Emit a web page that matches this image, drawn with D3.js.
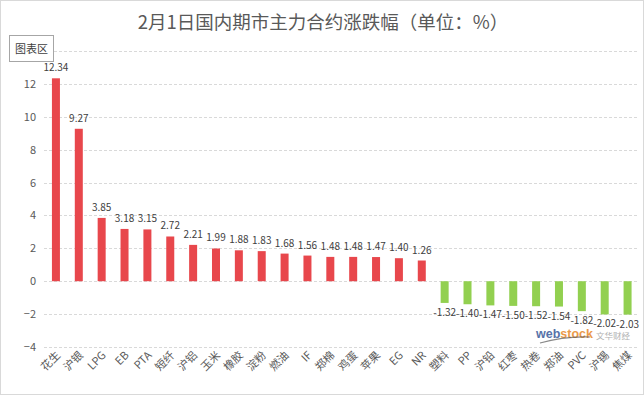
<!DOCTYPE html>
<html><head><meta charset="utf-8">
<script src="https://cdn.jsdelivr.net/npm/d3@7"></script>
<style>body{margin:0;background:#fff}svg{display:block}</style>
</head><body>
<svg id="c" width="644" height="395"></svg>
<script>
const categories = ["花生","沪银","LPG","EB","PTA","短纤","沪铝","玉米","橡胶","淀粉","燃油","IF","郑棉","鸡蛋","苹果","EG","NR","塑料","PP","沪铅","红枣","热卷","郑油","PVC","沪锡","焦煤"];
const values = [12.34,9.27,3.85,3.18,3.15,2.72,2.21,1.99,1.88,1.83,1.68,1.56,1.48,1.48,1.47,1.40,1.26,-1.32,-1.40,-1.47,-1.50,-1.52,-1.54,-1.82,-2.02,-2.03];
const yTicks = [-4,-2,0,2,4,6,8,10,12,14];
const title = "2月1日国内期市主力合约涨跌幅（单位：%）";

const svg = d3.select("#c");
const font = "'Microsoft YaHei','Noto Sans CJK SC','DejaVu Sans',sans-serif";
svg.append("rect").attr("x",0.5).attr("y",0.5).attr("width",643).attr("height",394)
  .attr("fill","#fff").attr("stroke","#d9d9d9");

const x = d3.scaleBand().domain(categories).range([44.5,639]).paddingInner(0.65).paddingOuter(0.325);
const y = d3.scaleLinear().domain([-4,14]).range([347,51]);

// grid
svg.append("g").selectAll("line").data(yTicks).join("line")
  .attr("x1",44).attr("x2",639).attr("y1",d=>Math.round(y(d))+0.5).attr("y2",d=>Math.round(y(d))+0.5)
  .attr("stroke","#d9d9d9").attr("stroke-dasharray","3,2");

// y axis labels
const ya = svg.append("g").attr("transform","translate(36,0)")
  .call(d3.axisLeft(y).tickValues(yTicks.filter(d=>d<14)).tickSize(0).tickPadding(0));
ya.select(".domain").remove();
ya.selectAll("text").attr("font-family",font).attr("font-size",11).attr("fill","#595959");

// bars
svg.append("g").selectAll("rect").data(values).join("rect")
  .attr("x",(d,i)=>x(categories[i])).attr("width",x.bandwidth())
  .attr("y",d=>y(Math.max(0,d))).attr("height",d=>Math.abs(y(d)-y(0)))
  .attr("fill",d=>d>=0?"#E8474C":"#92D050");

// value labels
svg.append("g").selectAll("text").data(values).join("text")
  .attr("x",(d,i)=>x(categories[i])+x.bandwidth()/2)
  .attr("y",d=>d>=0?y(d)-7:y(d)+13)
  .attr("text-anchor","middle").attr("font-family",font).attr("font-size",10).attr("fill","#404040")
  .text(d=>d.toFixed(2));

// x labels
svg.append("g").selectAll("text").data(categories).join("text")
  .attr("transform",d=>`translate(${x(d)+x.bandwidth()/2+5},${356}) rotate(-45)`)
  .attr("text-anchor","end").attr("font-family",font).attr("font-size",11).attr("fill","#595959")
  .text(d=>d);

// title
svg.append("text").attr("x",323).attr("y",29).attr("text-anchor","middle")
  .attr("font-family",font).attr("font-size",18.5).attr("fill","#595959").text(title);

// chart area tag
svg.append("rect").attr("x",9.5).attr("y",35.5).attr("width",44).attr("height",26)
  .attr("fill","#fff").attr("stroke","#a6a6a6");
svg.append("text").attr("x",31.5).attr("y",53).attr("text-anchor","middle")
  .attr("font-family",font).attr("font-size",11).attr("fill","#404040").text("图表区");

// watermark
const wm = svg.append("text").attr("x",536).attr("y",338).attr("font-family","Arial,'Liberation Sans',sans-serif")
  .attr("font-size",12.5).attr("font-weight","bold").attr("opacity",0.85);
wm.append("tspan").attr("fill","#3a5a9a").text("web");
wm.append("tspan").attr("fill","#e8892a").text("stock");
svg.append("path").attr("d","M540,343 Q565,336 590,337").attr("fill","none").attr("stroke","#555").attr("stroke-width",1.2).attr("opacity",0.7);
svg.append("text").attr("x",596).attr("y",339).attr("font-family",font).attr("font-size",8.5).attr("fill","#b0b0b0").text("文华财经");
</script>
</body></html>
